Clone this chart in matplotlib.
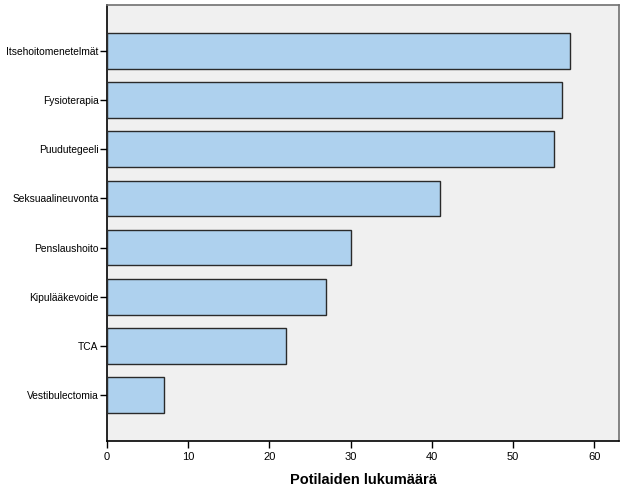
import matplotlib
matplotlib.use("Agg")
import matplotlib.pyplot as plt

categories = ["Itsehoitomenetelmät", "Fysioterapia", "Puudutegeeli", "Seksuaalineuvonta",
              "Penslaushoito", "Kipulääkevoide", "TCA", "Vestibulectomia"]
values = [57, 56, 55, 41, 30, 27, 22, 7]
xticks = [0, 10, 20, 30, 40, 50, 60]
xlabel = "Potilaiden lukumäärä"

plt.rcParams['font.family'] = ['Liberation Sans', 'DejaVu Sans']

fig = plt.figure(figsize=(6.26, 5.01), dpi=100)
ax = fig.add_axes([107/626, 60/501, 512/626, 436/501])
ax.set_facecolor('#F0F0F0')
pos = list(range(len(categories)))
ax.barh(pos, values, height=0.73, color='#AED1EE', edgecolor='#2a2a2a', linewidth=1.0, zorder=3)
ax.set_ylim(7.94, -0.94)
ax.set_xlim(0, 63.05)
ax.set_yticks(pos)
ax.set_yticklabels(categories, fontsize=7.4)
ax.set_xticks(xticks)
ax.set_xticklabels([str(t) for t in xticks], fontsize=8)
ax.tick_params(axis='both', direction='out', length=5, width=1, color='black', pad=1)
ax.tick_params(axis='x', pad=3)
ax.set_xlabel(xlabel, fontsize=10.5, fontweight='bold', labelpad=8)
for s in ['top', 'right']:
    ax.spines[s].set_color('#707070')
for s in ['left', 'bottom']:
    ax.spines[s].set_color('black')
for s in ax.spines.values():
    s.set_linewidth(1.2)
fig.savefig("out.png", dpi=100, facecolor='white')
